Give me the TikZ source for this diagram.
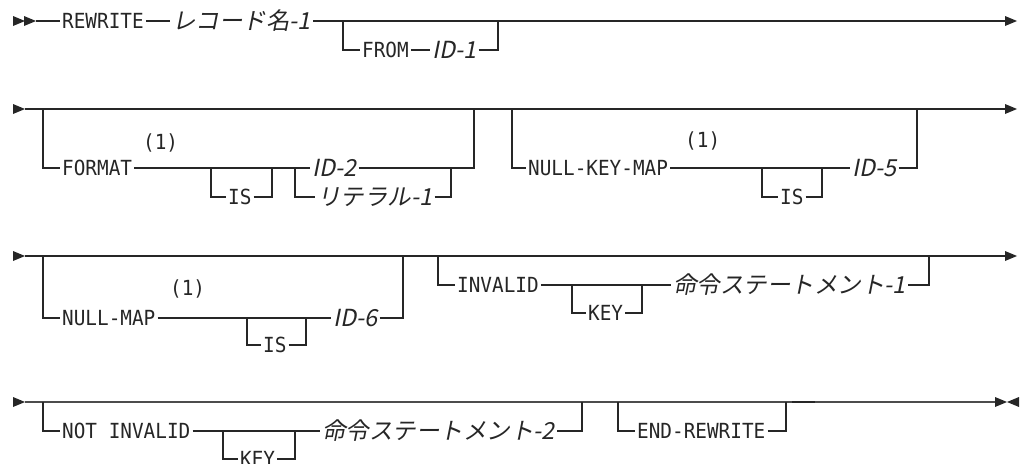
\documentclass[tikz,border=0pt]{standalone}
\usepackage{fontspec}
\newfontfamily\kwfont[FakeStretch=0.93]{DejaVu Sans Mono}
\newfontfamily\jpit[FakeSlant=0.2]{Noto Sans CJK JP}
\colorlet{railc}{black!85}
\tikzset{
  kw/.style={font=\kwfont\fontsize{20.8}{22}\selectfont,text=railc,
    inner xsep=2pt,inner ysep=0pt,text height=15.2pt,text depth=0pt,anchor=west},
  var/.style={font=\jpit\fontsize{23.5}{24}\selectfont,text=railc,
    inner xsep=2pt,inner ysep=0pt,text height=17pt,text depth=0pt,anchor=west},
  rail/.style={line width=1.2pt,draw=railc},
}
% filled triangles for the rail ends
\newcommand\railR[2]{\fill[railc] (#1,#2) ++(0,-5) -- ++(12,5) -- ++(-12,5) -- cycle;}
\newcommand\railL[2]{\fill[railc] (#1,#2) ++(0,-5) -- ++(-12,5) -- ++(12,5) -- cycle;}
\begin{document}
\begin{tikzpicture}[x=1pt,y=-1pt]
  \useasboundingbox (0,0) rectangle (1022,463);
  % row 1
  \railR{13}{21} \railR{24}{21}
  \node[kw] (rw) at (60,21) {REWRITE};
  \node[var] (rec) at (170,21) {レコード名-1};
  \node[kw] (from) at (360,50) {FROM};
  \node[var] (id1) at (430,50) {ID-1};
  \coordinate (e1) at (1005,21);
  \draw[rail] (36,21) -- (rw.west) (rw.east) -- (rec.west) (rec.east) -- (e1);
  \draw[rail] (343,21) |- (from.west) (from.east) -- (id1.west) (id1.east) -| (498,21);
  \railR{1005}{21}
  % row 2
  \railR{13}{109}
  \coordinate (s2) at (25,109);
  \coordinate (e2) at (1005,109);
  \draw[rail] (s2) -- (e2);
  \node[kw] (fmt) at (60,168) {FORMAT};
  \node[kw] (n1a) at (141,142) {(1)};
  \node[kw] (is1) at (226,197) {IS};
  \node[var] (id2) at (310,168) {ID-2};
  \node[var] (lit) at (315,197) {リテラル-1};
  \draw[rail] (43,109) |- (fmt.west) (fmt.east) -- (id2.west) (id2.east) -| (474,109);
  \draw[rail] (211,168) |- (is1.west) (is1.east) -| (272,168);
  \draw[rail] (295,168) |- (lit.west) (lit.east) -| (451,168);
  \node[kw] (nkm) at (526,168) {NULL-KEY-MAP};
  \node[kw] (n1b) at (683,140) {(1)};
  \node[kw] (is2) at (778,197) {IS};
  \node[var] (id5) at (850,168) {ID-5};
  \draw[rail] (512,109) |- (nkm.west) (nkm.east) -- (id5.west) (id5.east) -| (917,109);
  \draw[rail] (762,168) |- (is2.west) (is2.east) -| (822,168);
  \railR{1005}{109}
  % row 3
  \railR{13}{256}
  \coordinate (s3) at (25,256);
  \coordinate (e3) at (1005,256);
  \draw[rail] (s3) -- (e3);
  \node[kw] (nm) at (60,318) {NULL-MAP};
  \node[kw] (n1c) at (168,288) {(1)};
  \node[kw] (is3) at (261,345) {IS};
  \node[var] (id6) at (331,318) {ID-6};
  \draw[rail] (43,256) |- (nm.west) (nm.east) -- (id6.west) (id6.east) -| (403,256);
  \draw[rail] (247,318) |- (is3.west) (is3.east) -| (306,318);
  \node[kw] (inv) at (455,285) {INVALID};
  \node[kw] (key1) at (586,313) {KEY};
  \node[var] (st1) at (671,285) {命令ステートメント-1};
  \draw[rail] (438,256) |- (inv.west) (inv.east) -- (st1.west) (st1.east) -| (929,256);
  \draw[rail] (572,285) |- (key1.west) (key1.east) -| (642,285);
  \railR{1005}{256}
  % row 4
  \railR{13}{402}
  \coordinate (s4) at (25,402);
  \coordinate (e4) at (995,402);
  \draw[rail,draw=black!70] (s4) -- (e4);
  \draw[rail,line width=2pt] (792,402) -- (815,402);
  \node[kw] (ni) at (60,431) {NOT INVALID};
  \node[kw] (key2) at (238,459) {KEY};
  \node[var] (st2) at (320,431) {命令ステートメント-2};
  \draw[rail] (43,402) |- (ni.west) (ni.east) -- (st2.west) (st2.east) -| (582,402);
  \draw[rail] (223,431) |- (key2.west) (key2.east) -| (295,431);
  \node[kw] (er) at (635,431) {END-REWRITE};
  \draw[rail] (618,402) |- (er.west) (er.east) -| (786,402);
  \railR{995}{402} \railL{1019}{402}
\end{tikzpicture}
\end{document}
